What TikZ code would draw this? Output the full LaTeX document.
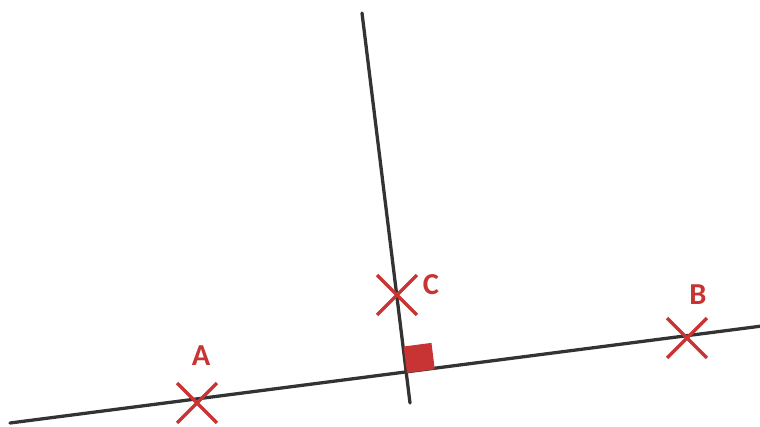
\documentclass[tikz,border=0pt]{standalone}
\usepackage{fontspec}
\setmainfont{Carlito}
\usetikzlibrary{calc,shapes.misc}
\definecolor{markred}{RGB}{200,52,52}
\tikzset{
    crossmark/.style={cross out, draw=markred, line width=2.8pt, minimum size=1.1cm, inner sep=0pt},
    ptlabel/.style={text=markred, font=\fontsize{26}{30}\selectfont\bfseries, inner sep=0pt},
    blackline/.style={line width=2.8pt, black!80, line cap=round}
}
\begin{document}
\begin{tikzpicture}[x=0.03cm, y=-0.03cm]
    % Frame
    \useasboundingbox (0,0) rectangle (760,427);

    % Lines
    \coordinate (l1) at (10,423);
    \coordinate (l2) at (762,326);
    \coordinate (p1) at (362,13);
    \coordinate (p2) at (410,403);
    \coordinate (O) at (407,373);
    \draw[blackline] (l1) -- (l2);
    \draw[blackline] (p1) -- (p2);

    % Right angle mark
    \coordinate (Ou) at ($(O)!0.84cm!(l2)$);
    \coordinate (Ov) at ($(O)!0.8cm!(p1)$);
    \fill[markred] (O) -- (Ou) -- ($(Ou)+(Ov)-(O)$) -- (Ov) -- cycle;

    % Points
    \node[crossmark] (A) at (197,403) {};
    \node[crossmark] (C) at (397,295) {};
    \node[crossmark] (B) at (687,338) {};
    \node[ptlabel] (labA) at (201,356) {A};
    \node[ptlabel] (labC) at (431,285) {C};
    \node[ptlabel] (labB) at (698,295) {B};
\end{tikzpicture}
\end{document}
